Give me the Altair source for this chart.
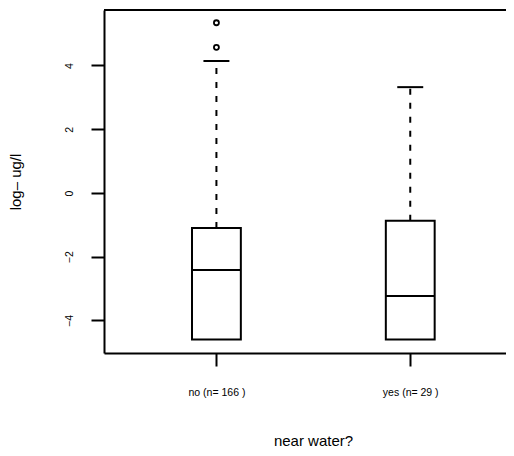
import altair as alt
import pandas as pd

# ---- data ----
groups = ["no", "yes"]
positions = [1, 2]
counts = [166, 29]
q1 = [-4.60, -4.60]
medians = [-2.42, -3.23]
q3 = [-1.10, -0.87]
upper_whisker = [4.14, 3.32]
outlier_pos = [1, 1]
outlier_values = [4.57, 5.34]
y_ticks = [-4, -2, 0, 2, 4]
x_labels = [f"{g} (n= {n} )" for g, n in zip(groups, counts)]

box_half = 0.126
cap_half = 0.067

df = pd.DataFrame({
    "group": groups, "pos": positions, "q1": q1, "median": medians,
    "q3": q3, "upper": upper_whisker,
})
out = pd.DataFrame({"pos": outlier_pos, "value": outlier_values})

FONT = "Liberation Sans"
W, H = 402, 343

x_scale = alt.Scale(domain=[0.42, 2.494], nice=False, zero=False)
y_scale = alt.Scale(domain=[-5.02, 5.74], nice=False, zero=False)

label_expr = " : ".join(
    [f"datum.value == {p} ? '{l}'" for p, l in zip(positions[:-1], x_labels[:-1])]
) + f" : '{x_labels[-1]}'"

x_axis = alt.Axis(
    values=positions, labelExpr=label_expr, grid=False,
    domain=True, domainColor="black", domainWidth=2,
    ticks=True, tickColor="black", tickWidth=2, tickSize=13,
    labelFont=FONT, labelFontSize=10.5, labelColor="black",
    labelPadding=21, labelBaseline="top", labelAlign="center",
    labelFlush=False, labelOverlap=False,
    title="near water?", titleFont=FONT, titleFontSize=15,
    titleFontWeight="normal", titleColor="black",
    titleX=209, titleY=92, titleAlign="center", titleBaseline="alphabetic",
    titleAnchor="start",
)
y_axis = alt.Axis(
    values=y_ticks, grid=False,
    domain=True, domainColor="black", domainWidth=2,
    ticks=True, tickColor="black", tickWidth=2, tickSize=13,
    labelFont=FONT, labelFontSize=10.5, labelColor="black",
    labelAngle=270, labelAlign="center", labelBaseline="alphabetic",
    labelPadding=18.5, labelFlush=False, labelOverlap=False,
    title="log– ug/l", titleFont=FONT, titleFontSize=15,
    titleFontWeight="normal", titleColor="black", titleAngle=270,
    titleX=-84, titleY=171.5, titleAlign="center", titleBaseline="alphabetic",
    titleAnchor="start",
)


def X(field):
    return alt.X(field, type="quantitative", scale=x_scale, axis=x_axis)


def Y(field):
    return alt.Y(field, type="quantitative", scale=y_scale, axis=y_axis)


base = alt.Chart(df).transform_calculate(
    xl=f"datum.pos - {box_half}", xr=f"datum.pos + {box_half}",
    cl=f"datum.pos - {cap_half}", cr=f"datum.pos + {cap_half}",
)

boxes = base.mark_rect(fill="white", stroke="black", strokeWidth=2).encode(
    x=X("xl"), x2="xr", y=Y("q1"), y2="q3"
)
med = base.mark_rule(color="black", strokeWidth=2).encode(
    x=X("xl"), x2="xr", y=Y("median")
)
whisk = base.mark_rule(color="black", strokeWidth=2, strokeDash=[6, 8]).encode(
    x=X("pos"), y=Y("q3"), y2="upper"
)
cap = base.mark_rule(color="black", strokeWidth=2).encode(
    x=X("cl"), x2="cr", y=Y("upper")
)
pts = alt.Chart(out).mark_point(
    shape="circle", filled=False, color="black", strokeWidth=1.8, size=25, opacity=1
).encode(x=X("pos"), y=Y("value"))

top = alt.Chart(pd.DataFrame({"a": [0]})).mark_rule(
    color="black", strokeWidth=2
).encode(x=alt.value(0), x2=alt.value(W), y=alt.value(0))

chart = alt.layer(whisk, boxes, med, cap, pts, top).properties(
    width=W, height=H,
    autosize=alt.AutoSizeParams(type="none"),
    padding={"left": 96, "top": 2, "right": 0, "bottom": 95},
    background="white",
).configure_view(stroke=None)

chart.save("out.html", embed_options={"renderer": "svg", "actions": False})
